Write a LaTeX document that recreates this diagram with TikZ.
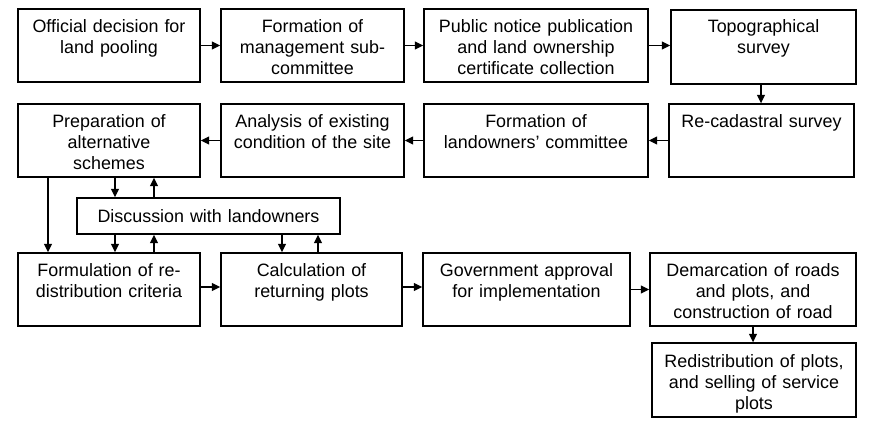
\documentclass[tikz,border=0pt]{standalone}
\usepackage{fontspec}
\setmainfont{Liberation Sans}
\usetikzlibrary{arrows.meta,fit}
\begin{document}
\begin{tikzpicture}[x=1pt,y=-1pt,
  stepbox/.style={draw=black, line width=1.4pt, inner sep=0pt, rectangle},
  txt/.style={font=\fontsize{17.9}{21}\selectfont, text width=240pt, align=center, inner sep=0pt, anchor=base},
  arr/.style={line width=1.4pt, -{Triangle[length=8.5pt,width=8pt]}}]
\useasboundingbox (0,0) rectangle (874,428);
\fill[white] (0,0) rectangle (874,428);
% boxes
\node[stepbox, fit={(18,9) (200,82)}] (a) {};
\node[stepbox, fit={(221,9) (404,82)}] (b) {};
\node[stepbox, fit={(424,9) (648,82)}] (c) {};
\node[stepbox, fit={(671,10) (856,84)}] (d) {};
\node[stepbox, fit={(669,104) (854,177)}] (e) {};
\node[stepbox, fit={(424,104) (648,177)}] (f) {};
\node[stepbox, fit={(221,104) (404,177)}] (g) {};
\node[stepbox, fit={(18,104) (200,177)}] (h) {};
\node[stepbox, fit={(77,198) (340,234)}] (i) {};
\node[stepbox, fit={(18,253) (200,326)}] (j) {};
\node[stepbox, fit={(221,253) (402,326)}] (k) {};
\node[stepbox, fit={(423,253) (630,326)}] (l) {};
\node[stepbox, fit={(650,253) (856,326)}] (m) {};
\node[stepbox, fit={(652,343) (856,417)}] (n) {};
% texts
\node[txt] at ([yshift=-24pt]a.north) {Official decision for\\land pooling};
\node[txt] at ([yshift=-24pt]b.north) {Formation of\\management sub-\\committee};
\node[txt] at ([yshift=-24pt]c.north) {Public notice publication\\and land ownership\\certificate collection};
\node[txt] at ([yshift=-23pt]d.north) {Topographical\\survey};
\node[txt] at ([yshift=-24pt]e.north) {Re-cadastral survey};
\node[txt] at ([yshift=-24pt]f.north) {Formation of\\landowners’ committee};
\node[txt] at ([yshift=-24pt]g.north) {Analysis of existing\\condition of the site};
\node[txt] at ([yshift=-24pt]h.north) {Preparation of\\alternative\\schemes};
\node[txt] at ([yshift=-6.5pt]i.center) {Discussion with landowners};
\node[txt] at ([yshift=-24pt]j.north) {Formulation of re-\\distribution criteria};
\node[txt] at ([yshift=-24pt]k.north) {Calculation of\\returning plots};
\node[txt] at ([yshift=-24pt]l.north) {Government approval\\for implementation};
\node[txt] at ([yshift=-24pt]m.north) {Demarcation of roads\\and plots, and\\construction of road};
\node[txt] at ([yshift=-25pt]n.north) {Redistribution of plots,\\and selling of service\\plots};
% column / row guides
\coordinate (xa) at (115,0);
\coordinate (xb) at (154,0);
\coordinate (xl) at (48,0);
\coordinate (xc) at (282,0);
\coordinate (xd) at (318,0);
\coordinate (xe) at (761,0);
\coordinate (xf) at (753,0);
\coordinate (r3) at (0,287);
% connectors
\draw[arr] (a.east) -- (b.west);
\draw[arr] (b.east) -- (c.west);
\draw[arr] (c.east) -- (d.west |- c.east);
\draw[arr] (d.south -| xe) -- (e.north -| xe);
\draw[arr] (e.west) -- (f.east);
\draw[arr] (f.west) -- (g.east);
\draw[arr] (g.west) -- (h.east);
\draw[arr] (h.south -| xa) -- (i.north -| xa);
\draw[arr] (i.north -| xb) -- (h.south -| xb);
\draw[arr] (h.south -| xl) -- (j.north -| xl);
\draw[arr] (i.south -| xa) -- (j.north -| xa);
\draw[arr] (j.north -| xb) -- (i.south -| xb);
\draw[arr] (i.south -| xc) -- (k.north -| xc);
\draw[arr] (k.north -| xd) -- (i.south -| xd);
\draw[arr] (j.east |- r3) -- (k.west |- r3);
\draw[arr] (k.east |- r3) -- (l.west |- r3);
\draw[arr] (l.east) -- (m.west);
\draw[arr] (m.south -| xf) -- (n.north -| xf);
\end{tikzpicture}
\end{document}
